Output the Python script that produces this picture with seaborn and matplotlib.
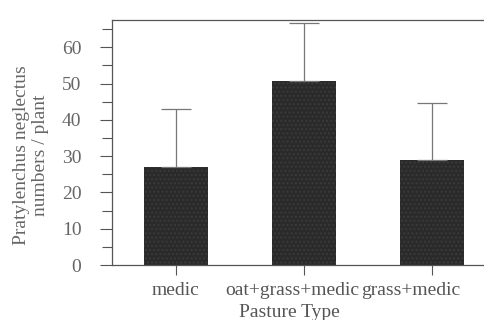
import matplotlib
matplotlib.use("Agg")
import matplotlib.pyplot as plt
import matplotlib.transforms as mtransforms
import seaborn as sns
import pandas as pd
from matplotlib.ticker import MultipleLocator

categories = ["medic", "oat+grass+medic", "grass+medic"]
means = [27.0, 50.7, 29.0]
errors = [16.0, 16.0, 15.6]

df = pd.DataFrame({"Pasture Type": categories, "value": means})

sns.set_style("ticks")
plt.rcParams["font.family"] = ["Liberation Serif", "DejaVu Serif"]

W, H = 485, 320
fig = plt.figure(figsize=(W / 100, H / 100), dpi=100)
ax = fig.add_axes([112 / W, 1 - 265 / H, (496 - 112) / W, (265 - 20) / H])

sns.barplot(data=df, x="Pasture Type", y="value", ax=ax, color="#2a2a2a",
            width=0.5, errorbar=None, saturation=1, edgecolor="#222222")
for b in ax.patches:
    b.set_hatch("....")
    b.set_edgecolor("#3a3a3a")
    b.set_linewidth(0)

ax.errorbar(range(len(categories)), means, yerr=[[0] * 3, errors], fmt="none",
            ecolor="#777777", elinewidth=0.9, capsize=11, capthick=0.9)

ax.set_xlim(-0.5, 2.5)
ax.set_ylim(0, 67.5)
ax.yaxis.set_major_locator(MultipleLocator(10))
ax.yaxis.set_minor_locator(MultipleLocator(5))

for s in ax.spines.values():
    s.set_color("#555555")
    s.set_linewidth(0.9)

ax.tick_params(axis="y", which="major", length=9, width=0.8, color="#555555",
               labelsize=14, labelcolor="#666666", pad=13)
ax.tick_params(axis="y", which="minor", length=7, width=0.8, color="#555555")
ax.tick_params(axis="x", length=7, width=0.8, color="#555555",
               labelsize=14, labelcolor="#555555", pad=5)

# shift tick labels horizontally as in the reference
shifts_px = [0, -12, -21]
for lbl, dx in zip(ax.get_xticklabels(), shifts_px):
    lbl.set_transform(lbl.get_transform() +
                      mtransforms.ScaledTranslation(dx / 100, 0, fig.dpi_scale_trans))

ax.set_xlabel("Pasture Type", fontsize=14, color="#555555")
ax.xaxis.set_label_coords((289 - 112) / (496 - 112), -(304 - 265) / 245)
ax.set_ylabel("Pratylenchus neglectus\nnumbers / plant", fontsize=14,
              color="#666666", linespacing=1.15)
ax.yaxis.label.set_va("center")
ax.yaxis.set_label_coords(-(112 - 31) / 384, (265 - 155) / 245)

fig.savefig("out.png", dpi=100)
